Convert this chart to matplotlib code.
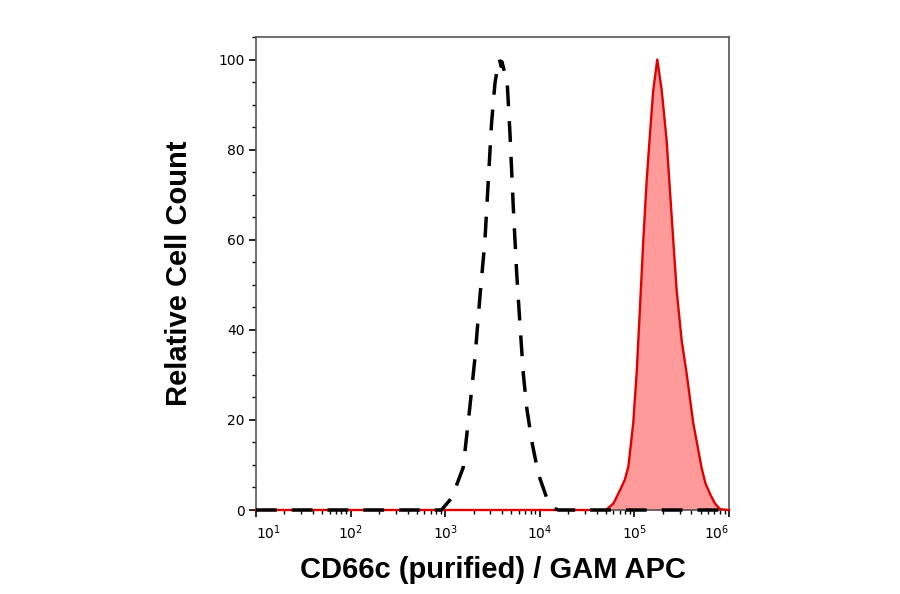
import matplotlib.pyplot as plt
import numpy as np
from matplotlib.ticker import FixedLocator, LogLocator, MultipleLocator, NullFormatter

# isotype / secondary-only control (black dashed), x as log10 intensity
ctrl_log = [1.0, 2.96, 3.07, 3.19, 3.26, 3.315, 3.37, 3.42, 3.456, 3.49, 3.526,
            3.56, 3.575, 3.59, 3.60, 3.656, 3.685, 3.72, 3.756, 3.79, 3.826,
            3.862, 3.915, 3.985, 4.073, 4.143, 4.2, 6.0]
ctrl_cnt = [0, 0, 2.7, 9.4, 22.7, 33.8, 48, 59.8, 73.2, 85.8, 94.7,
            99.2, 100, 98.5, 99.5, 94.7, 83.6, 67.2, 52.5, 41.4, 30.2,
            22.7, 15.3, 8.0, 2.7, 0.4, 0, 0]

# CD66c stained sample (red filled)
cd66_log = [1.0, 4.70, 4.78, 4.848, 4.90, 4.936, 4.988, 5.024, 5.059, 5.094,
            5.13, 5.165, 5.199, 5.242, 5.289, 5.341, 5.376, 5.411, 5.447,
            5.50, 5.553, 5.622, 5.711, 5.75, 5.799, 5.85, 5.905, 6.0]
cd66_cnt = [0, 0, 1.5, 4.4, 6.8, 9.6, 19.3, 30.4, 44.9, 59.8,
            73.2, 83.6, 93.1, 100, 93.1, 82, 70.9, 59.8, 48.7,
            37.6, 30.2, 19.3, 9.3, 6.0, 3.6, 1.5, 0.2, 0]

decades = [1, 2, 3, 4, 5, 6]

ctrl_x = 10 ** np.array(ctrl_log)
cd66_x = 10 ** np.array(cd66_log)

fig = plt.figure(figsize=(9, 5.94), dpi=100)
ax = fig.add_axes([0.2844, 0.1414, 0.5256, 0.7963])

ax.fill_between(cd66_x, cd66_cnt, 0, color='#ff9a9a', linewidth=0, zorder=1)
ax.plot(cd66_x, cd66_cnt, color='#e00000', linewidth=1.7, zorder=3, clip_on=False)
ax.plot(ctrl_x, ctrl_cnt, color='black', linewidth=2.5,
        linestyle=(0, (6, 4.3)), zorder=4, clip_on=False)

ax.set_xscale('log')
ax.set_xlim(10, 1e6)
ax.set_ylim(0, 105)

ax.xaxis.set_major_locator(FixedLocator([10.0 ** d for d in decades]))
ax.xaxis.set_minor_locator(LogLocator(base=10, subs=np.arange(2, 10), numticks=20))
ax.xaxis.set_minor_formatter(NullFormatter())
ax.set_xticklabels(['$10^{%d}$' % d for d in decades])
labs = ax.get_xticklabels()
labs[0].set_horizontalalignment('left')
labs[-1].set_horizontalalignment('right')

ax.yaxis.set_major_locator(MultipleLocator(20))
ax.yaxis.set_minor_locator(MultipleLocator(5))

for s in ['top', 'bottom', 'left', 'right']:
    ax.spines[s].set_color('#555555')
    ax.spines[s].set_linewidth(1.2)

ax.tick_params(which='major', direction='out', length=5, width=1.2,
               labelsize=10, colors='black', pad=3)
ax.tick_params(which='minor', direction='out', length=3, width=1.0)
ax.tick_params(axis='x', which='major', pad=5)

ax.set_ylabel('Relative Cell Count', fontsize=21, fontweight='bold',
              family='Liberation Sans', labelpad=18)
ax.set_xlabel('CD66c (purified) / GAM APC', fontsize=21, fontweight='bold',
              family='Liberation Sans', labelpad=10)

fig.savefig('out.png', dpi=100)
